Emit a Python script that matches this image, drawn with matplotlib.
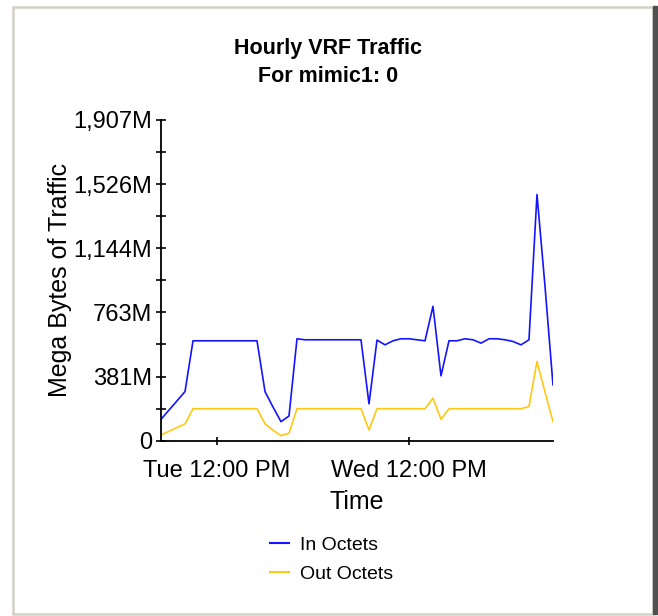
import pandas as pd
import matplotlib.pyplot as plt
from matplotlib.patches import Rectangle
from matplotlib.lines import Line2D

plt.rcParams['font.family'] = ['Liberation Sans', 'DejaVu Sans']

# Dados horarios (Mega Bytes)
horas = pd.date_range('2007-01-02 05:00', periods=50, freq='h')

in_octets = [127, 182, 237, 292, 594, 594, 594, 594, 594, 594, 594, 594, 594,
             292, 200, 113, 147, 606, 600, 600, 600, 600, 600, 600, 600, 600,
             219, 598, 570, 594, 606, 606, 600, 594, 799, 386, 594, 594, 606,
             600, 580, 606, 606, 600, 590, 570, 600, 1464, 920, 332]

out_octets = [34, 56, 78, 100, 190, 190, 190, 190, 190, 190, 190, 190, 190,
              100, 62, 30, 44, 190, 190, 190, 190, 190, 190, 190, 190, 190,
              64, 190, 190, 190, 190, 190, 190, 190, 253, 127, 190, 190, 190,
              190, 190, 190, 190, 190, 190, 190, 203, 471, 290, 113]

y_ticks = [0, 381.4, 762.8, 1144.2, 1525.6, 1907]
y_labels = ['0', '381M', '763M', '1,144M', '1,526M', '1,907M']
x_ticks = ['2007-01-02 12:00', '2007-01-03 12:00']
x_labels = ['Tue 12:00 PM', 'Wed 12:00 PM']

cor_in = '#1414ff'
cor_out = '#ffc814'

fig = plt.figure(figsize=(6.58, 6.16), dpi=100)
ax = fig.add_axes([0.2447, 0.2846, 0.5957, 0.5206])

ax.plot(horas, in_octets, color=cor_in, linewidth=1.2, label='In Octets')
ax.plot(horas, out_octets, color=cor_out, linewidth=1.2, label='Out Octets')

ax.set_xlim(horas[0], horas[-1])
ax.set_ylim(0, 1907)

# eixo y com ticks cruzando
ax.set_yticks(y_ticks)
ax.set_yticklabels(y_labels)
ax.set_yticks([(a + b) / 2 for a, b in zip(y_ticks[:-1], y_ticks[1:])], minor=True)
ax.tick_params(axis='y', which='both', direction='inout', length=7, width=1.2,
               labelsize=17, pad=3)

ax.set_xticks(pd.to_datetime(x_ticks))
ax.set_xticklabels(x_labels)
ax.tick_params(axis='x', direction='inout', length=6, width=1.2, labelsize=17, pad=11)

for s in ['top', 'right']:
    ax.spines[s].set_visible(False)
for s in ['left', 'bottom']:
    ax.spines[s].set_linewidth(1.3)

ax.set_ylabel('Mega Bytes of Traffic', fontsize=18, labelpad=1)
ax.set_xlabel('Time', fontsize=18, labelpad=6)

fig.text(0.499, 0.922, 'Hourly VRF Traffic', ha='center', va='center',
         fontsize=15.5, fontweight='bold')
fig.text(0.499, 0.876, 'For mimic1: 0', ha='center', va='center',
         fontsize=15.5, fontweight='bold')

# legenda
handles = [Line2D([], [], color=cor_in, linewidth=1.5),
           Line2D([], [], color=cor_out, linewidth=1.5)]
fig.legend(handles, ['In Octets', 'Out Octets'], loc='upper left',
           bbox_to_anchor=(0.41, 0.13), frameon=False, fontsize=14,
           handlelength=1.0, handletextpad=0.55, labelspacing=0.62,
           borderpad=0, borderaxespad=0)

# moldura da janela
fig.patches.append(Rectangle((13 / 658, 1 - 614 / 616), 640 / 658, 607 / 616,
                             transform=fig.transFigure, fill=False,
                             edgecolor='#d4d0c8', linewidth=1.8))
fig.patches.append(Rectangle((653 / 658, 1 - 614 / 616), 4 / 658, 608 / 616,
                             transform=fig.transFigure, color='#505050'))

fig.savefig('out.png', dpi=100)
